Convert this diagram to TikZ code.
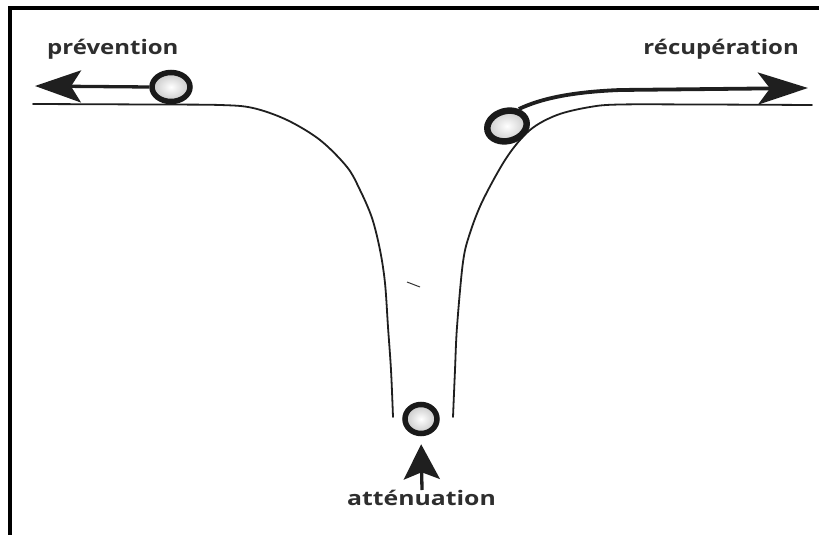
\documentclass[tikz,border=0pt]{standalone}
\usepackage{fontspec}
\usetikzlibrary{arrows.meta,shapes.geometric}
\newfontfamily\labfont{Open Sans}
\begin{document}
\begin{tikzpicture}[x=1pt,y=-1pt,
  ground/.style={line width=1.8pt, black!88, line cap=round},
  ball/.style={ellipse, draw=black!90, line width=5.5pt, inner color=white, outer color=gray!45, inner sep=0pt},
  arr/.style={line width=3.3pt, black!88},
  lab/.style={font=\labfont\bfseries\fontsize{20}{24}\selectfont, text=black!82, inner sep=0pt}
]
\useasboundingbox (0,0) rectangle (819,535);
% frame
\draw[line width=3.2pt, line join=miter] (10,535) -- (10,8) -- (819,8);
% ground curves
\draw[ground] plot[smooth, tension=0.55] coordinates {(33,104) (150,104.5) (220,105) (253,108) (287,120) (320,140) (347,167) (360,190) (372,218) (380,250) (385,283) (388,327) (391,370) (393,417)};
\draw[ground] plot[smooth, tension=0.55] coordinates {(453,417) (455,370) (457,327) (463,262) (470,233) (483,200) (507,157) (530,130) (557,115) (590,107) (620,104.5) (700,104.5) (812,105)};
% stray mark
\draw[line width=1pt, black!80] (407,282) -- (420,287);
% balls
\node[ball, minimum width=38pt, minimum height=29pt] (bl) at (171,87) {};
\node[ball, line width=6.5pt, minimum width=40pt, minimum height=30pt, rotate=15] (br) at (507,126) {};
\node[ball, minimum width=32pt, minimum height=29pt] (bb) at (421,419) {};
% arrow ends
\coordinate (ltip) at (35,86);
\coordinate (rtip) at (808,88);
\coordinate (ubot) at (422,490);
% arrows
\draw[arr, -{Stealth[length=46pt,width=32pt,inset=10pt]}] (bl.west) -- (ltip);
\draw[arr, line width=3.8pt, -{Stealth[length=50pt,width=32pt,inset=12pt]}] (br.40) .. controls (540,99) and (570,92) .. (620,90) -- (rtip);
\draw[arr, shorten >=8pt, -{Stealth[length=35pt,width=36pt,inset=7pt]}] (ubot) -- (bb.south);
% labels
\node[lab, anchor=base west] (tprev) at (47,55) {\scalebox{1.2}[1]{prévention}};
\node[lab, anchor=base east] (trecup) at (799,55) {\scalebox{1.2}[1]{récupération}};
\node[lab, anchor=base] (tatt) at (421.5,505) {\scalebox{1.24}[1]{atténuation}};
\end{tikzpicture}
\end{document}
